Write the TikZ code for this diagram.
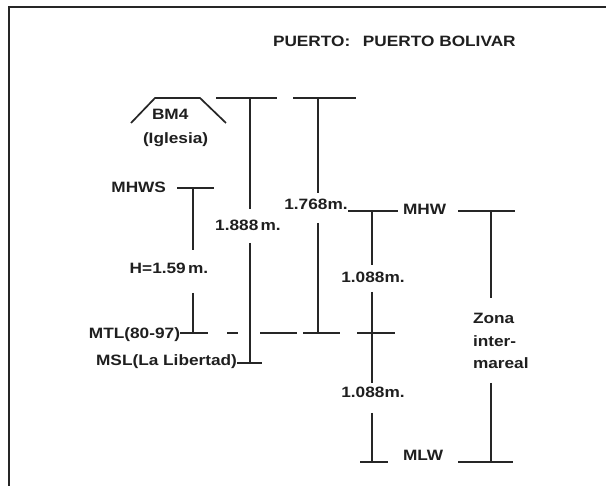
\documentclass[tikz,border=0pt]{standalone}
\usepackage{fontspec}
\setmainfont{Liberation Sans}
\newcommand\wtxt[1]{\scalebox{1.15}[1]{#1}}
\begin{document}
\begin{tikzpicture}[x=1pt,y=-1pt,
  lbl/.style={inner sep=0pt,outer sep=0pt,text=black!88,font=\bfseries\fontsize{15}{17}\selectfont},
  lvl/.style={line width=1.7pt,black!85},
  frm/.style={line width=1.8pt,black!85}]
\useasboundingbox[fill=white] (0,0) rectangle (606,486);
% frame
\draw[frm] (9,486) -- (9,7) -- (606,7);
% title
\node[lbl,anchor=base west] (title) at (273,47) {\wtxt{PUERTO:\hspace{11pt}PUERTO BOLIVAR}};
% BM4
\draw[lvl] (131,123) -- (155,98) -- (200,98) -- (226,123);
\node[lbl,anchor=base west] (bm4) at (152,120) {\wtxt{BM4}};
\node[lbl,anchor=base west] (igl) at (143,144) {\wtxt{(Iglesia)}};
% 1.888 m
\coordinate (a1) at (250,98);
\coordinate (a2) at (250,363);
\draw[lvl] (216,98) -- (277,98);
\draw[lvl] (a1) -- (250,209);
\node[lbl,anchor=base] (d1888) at (248,231) {\wtxt{1.888\kern2pt m.}};
\draw[lvl] (250,243) -- (a2);
\draw[lvl] (237,363) -- (262,363);
% 1.768 m
\coordinate (b1) at (318,98);
\coordinate (b2) at (318,333);
\draw[lvl] (293,98) -- (356,98);
\draw[lvl] (b1) -- (318,193);
\node[lbl,anchor=base] (d1768) at (316,210) {\wtxt{1.768m.}};
\draw[lvl] (318,223) -- (b2);
% MHWS
\node[lbl,anchor=base east] (mhws) at (166,193) {\wtxt{MHWS}};
\draw[lvl] (177,188) -- (214,188);
\draw[lvl] (193,188) -- (193,250);
\node[lbl,anchor=base] (h159) at (169,274) {\wtxt{H=1.59\kern2pt m.}};
\draw[lvl] (193,293) -- (193,333);
% MTL line
\node[lbl,anchor=base east] (mtl) at (180,339) {\wtxt{MTL(80-97)}};
\draw[lvl] (180,333) -- (208,333);
\draw[lvl] (227,333) -- (238,333);
\draw[lvl] (260,333) -- (297,333);
\draw[lvl] (303,333) -- (340,333);
\draw[lvl] (357,333) -- (395,333);
% MSL
\node[lbl,anchor=base east] (msl) at (237,366) {\wtxt{MSL(La Libertad)}};
% MHW / MLW
\node[lbl,anchor=base west] (mhw) at (403,215) {\wtxt{MHW}};
\node[lbl,anchor=base west] (mlw) at (403,461) {\wtxt{MLW}};
\draw[lvl] (348,211) -- (398,211);
\draw[lvl] (372,211) -- (372,265);
\node[lbl,anchor=base] (d1088a) at (373,283) {\wtxt{1.088m.}};
\draw[lvl] (372,292) -- (372,383);
\node[lbl,anchor=base] (d1088b) at (373,398) {\wtxt{1.088m.}};
\draw[lvl] (372,413) -- (372,462);
\draw[lvl] (360,462) -- (388,462);
% Zona intermareal
\draw[lvl] (458,211) -- (515,211);
\draw[lvl] (491,211) -- (491,298);
\node[lbl,anchor=base west] (z1) at (473,324) {\wtxt{Zona}};
\node[lbl,anchor=base west] (z2) at (473,347) {\wtxt{inter-}};
\node[lbl,anchor=base west] (z3) at (473,369) {\wtxt{mareal}};
\draw[lvl] (491,383) -- (491,462);
\draw[lvl] (458,462) -- (513,462);
\end{tikzpicture}
\end{document}
